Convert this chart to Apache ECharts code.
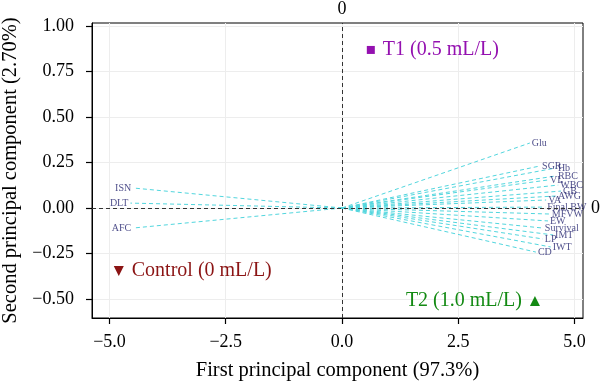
<!DOCTYPE html>
<html><head><meta charset="utf-8">
<script src="https://cdn.jsdelivr.net/npm/echarts@6/dist/echarts.min.js"></script>
<style>html,body{margin:0;padding:0;background:#fff}#c{width:600px;height:383px}</style>
</head><body><div id="c"></div>
<script>
// Sample scores (groups)
const groupNames = ['Control (0 mL/L)', 'T1 (0.5 mL/L)', 'T2 (1.0 mL/L)'];
const groupPC1 = [-4.80, 0.62, 4.15];
const groupPC2 = [-0.346, 0.868, -0.511];
// Variable loadings
const varNames = ['ISN', 'DLT', 'AFC', 'Glu', 'SGR', 'Hb', 'RBC', 'VL', 'WBC', 'GB', 'AWG', 'VA', 'Final BW', 'MFVW', 'EW', 'Survival', 'IMT', 'LP', 'IWT', 'CD'];
const varPC1 = [-4.49, -4.55, -4.49, 4.04, 4.26, 4.60, 4.60, 4.43, 4.65, 4.71, 4.60, 4.39, 4.37, 4.47, 4.43, 4.32, 4.54, 4.32, 4.49, 4.17];
const varPC2 = [0.110, 0.027, -0.110, 0.357, 0.231, 0.220, 0.176, 0.154, 0.126, 0.093, 0.066, 0.044, 0.005, -0.033, -0.071, -0.110, -0.148, -0.170, -0.214, -0.242];
// Tick labels
const xTicks = [-5.0, -2.5, 0.0, 2.5, 5.0];
const yTicks = [-0.50, -0.25, 0.00, 0.25, 0.50, 0.75, 1.00];
const topTicks = [0];
const rightTicks = [0];

const FONT = 'Liberation Serif';
const groupSymbols = ['triangle', 'rect', 'triangle'];
const groupRotate = [180, 0, 0];
const groupColors = ['#8b1414', '#9410b0', '#138a13'];
const groupLabelPos = ['right', 'right', 'left'];
const groupSizes = [10, 8, 10];
const minus = s => s.replace('-', '\u2212');

const chart = echarts.init(document.getElementById('c'), null, {renderer: 'canvas'});
const xr = [-5.376, 5.183], yr = [-0.604, 1.016];
chart.setOption({
  animation: false,
  backgroundColor: '#fff',
  textStyle: {fontFamily: FONT},
  grid: {left: 92, right: 17, top: 23, bottom: 65, containLabel: false, outerBoundsMode: 'none',
         show: true, borderColor: '#000', borderWidth: 1, backgroundColor: 'transparent'},
  xAxis: [{
    type: 'value', min: xr[0], max: xr[1], position: 'bottom',
    axisLine: {show: true, onZero: false, lineStyle: {color: '#000', width: 1}},
    axisTick: {show: true, customValues: xTicks, length: 6, lineStyle: {color: '#000', width: 1.2}},
    axisLabel: {customValues: xTicks, formatter: v => minus(v.toFixed(1)), fontSize: 18, color: '#000', margin: 15, fontFamily: FONT},
    splitLine: {show: true, lineStyle: {color: '#ededed', width: 1}},
    name: 'First principal component (97.3%)', nameLocation: 'middle', nameGap: 42,
    nameTextStyle: {fontSize: 20.5, color: '#000', fontFamily: FONT}
  }, {
    type: 'value', min: xr[0], max: xr[1], position: 'top',
    axisLine: {show: false}, axisTick: {show: false}, splitLine: {show: false},
    axisLabel: {customValues: topTicks, formatter: v => String(v), fontSize: 18, color: '#000', margin: 5, fontFamily: FONT}
  }],
  yAxis: [{
    type: 'value', min: yr[0], max: yr[1], position: 'left',
    axisLine: {show: true, onZero: false, lineStyle: {color: '#000', width: 1}},
    axisTick: {show: true, customValues: yTicks, length: 6, lineStyle: {color: '#000', width: 1.2}},
    axisLabel: {customValues: yTicks, formatter: v => minus(v.toFixed(2)), fontSize: 18, color: '#000', margin: 18, fontFamily: FONT},
    splitLine: {show: true, lineStyle: {color: '#ededed', width: 1}},
    name: 'Second principal component (2.70%)', nameLocation: 'middle', nameGap: 68, nameRotate: 90,
    nameTextStyle: {fontSize: 20.5, color: '#000', fontFamily: FONT}
  }, {
    type: 'value', min: yr[0], max: yr[1], position: 'right',
    axisLine: {show: false}, axisTick: {show: false}, splitLine: {show: false},
    axisLabel: {customValues: rightTicks, formatter: v => String(v), fontSize: 18, color: '#000', margin: 8, fontFamily: FONT}
  }],
  series: [
    {
      type: 'lines', coordinateSystem: 'cartesian2d', silent: true, z: 2,
      lineStyle: {color: '#52d6de', width: 1, type: [4, 3], opacity: 1},
      data: varNames.map((n, i) => ({coords: [[0, 0], [varPC1[i], varPC2[i]]]})),
      markLine: {
        silent: true, symbol: ['none', 'none'], label: {show: false},
        lineStyle: {color: '#333', type: [4, 3], width: 1},
        data: [{xAxis: 0}, {yAxis: 0}]
      }
    },
    {
      type: 'scatter', silent: true, symbolSize: 0, z: 3,
      data: varNames.map((n, i) => ({
        name: n, value: [varPC1[i], varPC2[i]],
        label: {position: varPC1[i] < 0 ? 'left' : 'right'}
      })),
      label: {show: true, formatter: p => p.name, distance: 2, fontSize: 10, color: '#23236e', fontFamily: FONT}
    },
    {
      type: 'scatter', silent: true, z: 4,
      data: groupNames.map((n, i) => ({
        name: n, value: [groupPC1[i], groupPC2[i]],
        symbol: groupSymbols[i], symbolRotate: groupRotate[i], symbolSize: groupSizes[i],
        itemStyle: {color: groupColors[i], opacity: 1},
        label: {position: groupLabelPos[i], color: groupColors[i]}
      })),
      label: {show: true, formatter: p => p.name, distance: 8, fontSize: 20, fontFamily: FONT}
    }
  ]
});
</script></body></html>
